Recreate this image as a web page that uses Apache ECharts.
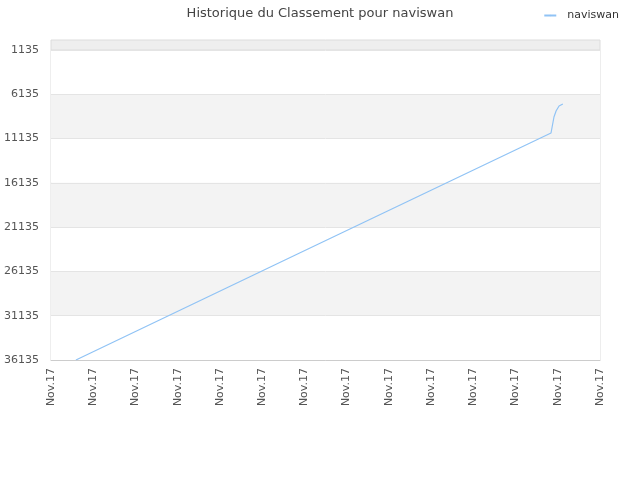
<!DOCTYPE html>
<html>
<head>
<meta charset="utf-8">
<script src="https://cdn.jsdelivr.net/npm/echarts@6/dist/echarts.min.js"></script>
<style>
  html, body { margin: 0; padding: 0; background: #fff; }
  #main { width: 640px; height: 480px; }
</style>
</head>
<body>
<div id="main"></div>
<script>
// x position in ticks (0..13), rank value
const xPos = [0.59, 5.8, 11.84, 11.91, 11.96, 12.03, 12.12];
const ranks = [36135, 24250, 10506, 8700, 8022, 7458, 7232];
const xTickCount = 13;
const xTickLabel = 'Nov.17';
const yMin = 1135;
const yMax = 36135;
const yStep = 5000;

const chartDom = document.getElementById('main');
const myChart = echarts.init(chartDom);

const option = {
  animation: false,
  textStyle: { fontFamily: 'DejaVu Sans' },
  title: {
    text: 'Historique du Classement pour naviswan',
    left: 'center',
    top: 2,
    textStyle: { fontSize: 13, fontWeight: 'normal', color: '#444' }
  },
  legend: {
    right: 16,
    top: 5,
    itemWidth: 12,
    itemHeight: 2,
    textStyle: { fontSize: 11, color: '#333', padding: [0, 0, 0, 6] },
    data: ['naviswan']
  },
  grid: {
    left: 51, right: 40, top: 50, bottom: 120,
    outerBoundsMode: 'none',
    containLabel: false,
    show: true, borderColor: '#dcdcdc', borderWidth: 1
  },
  // top grey strip above the first tick
  graphic: [{
    type: 'rect',
    shape: { x: 51, y: 40, width: 549, height: 10 },
    style: { fill: '#eeeeee', stroke: '#dcdcdc', lineWidth: 1 }
  }],
  xAxis: {
    type: 'value',
    min: 0,
    max: xTickCount,
    interval: 1,
    axisLine: { show: true, lineStyle: { color: '#ccc' } },
    axisTick: { show: false },
    splitLine: { show: false },
    axisLabel: {
      rotate: 90,
      fontSize: 11,
      color: '#555',
      margin: 8,
      formatter: () => xTickLabel
    }
  },
  yAxis: {
    type: 'value',
    inverse: true,
    min: yMin,
    max: yMax,
    interval: yStep,
    axisLine: { show: false },
    axisTick: { show: false },
    axisLabel: { fontSize: 11, color: '#555', margin: 12, formatter: v => String(v) },
    splitLine: { show: true, lineStyle: { color: '#e4e4e4' } },
    splitArea: { show: true, areaStyle: { color: ['#ffffff', '#f3f3f3'] } }
  },
  series: [{
    name: 'naviswan',
    type: 'line',
    symbol: 'none',
    lineStyle: { color: '#90c3f5', width: 1.2 },
    itemStyle: { color: '#90c3f5' },
    data: xPos.map((x, i) => [x, ranks[i]])
  }]
};

option && myChart.setOption(option);
</script>
</body>
</html>
